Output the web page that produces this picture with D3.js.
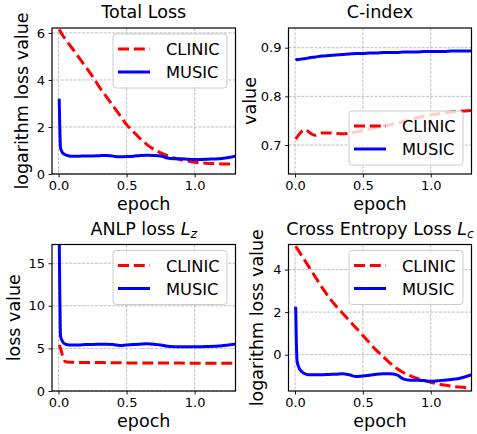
<!DOCTYPE html>
<html>
<head>
<meta charset="utf-8">
<script src="https://cdn.jsdelivr.net/npm/d3@7"></script>
<style>
  body { margin: 0; background: #fff; }
  svg { font-family: "DejaVu Sans", sans-serif; }
</style>
</head>
<body>
<div id="chart"></div>
<script>
// epochs shared by every series
var epochs = [0.005, 0.015, 0.03, 0.05, 0.08, 0.1, 0.15, 0.2, 0.25, 0.3, 0.35, 0.4, 0.45, 0.5,
    0.55, 0.6, 0.65, 0.7, 0.75, 0.8, 0.85, 0.9, 0.95, 1.0, 1.05, 1.1, 1.15, 1.2, 1.25, 1.32];

var series_names = ['CLINIC', 'MUSIC'];

// Total Loss
var total_clinic = [6.15, 6.05, 5.9, 5.75, 5.5, 5.35, 4.95, 4.55, 4.15, 3.7, 3.3, 2.9, 2.5, 2.1,
    1.8, 1.5, 1.25, 1.05, 0.9, 0.78, 0.68, 0.6, 0.55, 0.5, 0.47, 0.45, 0.44, 0.43, 0.43, 0.45];
var total_music = [3.2, 1.1, 0.9, 0.82, 0.77, 0.76, 0.76, 0.77, 0.77, 0.78, 0.79, 0.76, 0.73, 0.74,
    0.76, 0.79, 0.8, 0.79, 0.77, 0.68, 0.65, 0.65, 0.63, 0.62, 0.62, 0.63, 0.64, 0.66, 0.7, 0.79];

// C-index
var cindex_clinic = [0.712, 0.716, 0.722, 0.728, 0.732, 0.727, 0.72, 0.725, 0.725, 0.724, 0.723, 0.724, 0.727, 0.73,
    0.733, 0.736, 0.739, 0.742, 0.745, 0.749, 0.752, 0.756, 0.759, 0.762, 0.764, 0.766, 0.768, 0.769, 0.77, 0.771];
var cindex_music = [0.874, 0.876, 0.876, 0.877, 0.878, 0.879, 0.881, 0.883, 0.884, 0.885, 0.886, 0.887, 0.888, 0.888,
    0.889, 0.889, 0.89, 0.89, 0.89, 0.891, 0.891, 0.891, 0.892, 0.892, 0.892, 0.892, 0.893, 0.893, 0.893, 0.893];

// ANLP loss
var anlp_clinic = [5.4, 5.0, 4.1, 3.45, 3.38, 3.37, 3.36, 3.35, 3.35, 3.34, 3.33, 3.32, 3.31, 3.3,
    3.3, 3.3, 3.3, 3.29, 3.29, 3.3, 3.3, 3.28, 3.27, 3.27, 3.26, 3.26, 3.26, 3.25, 3.25, 3.25];
var anlp_music = [18.5, 6.4, 5.8, 5.5, 5.4, 5.4, 5.4, 5.45, 5.45, 5.5, 5.5, 5.45, 5.35, 5.4,
    5.45, 5.5, 5.55, 5.5, 5.4, 5.25, 5.2, 5.2, 5.2, 5.2, 5.2, 5.22, 5.25, 5.3, 5.4, 5.55];

// Cross Entropy loss
var ce_clinic = [5.1, 5.0, 4.85, 4.65, 4.35, 4.15, 3.65, 3.15, 2.7, 2.3, 1.95, 1.6, 1.25, 0.9,
    0.55, 0.2, -0.1, -0.4, -0.65, -0.85, -1.0, -1.12, -1.22, -1.3, -1.37, -1.43, -1.48, -1.52, -1.55, -1.56];
var ce_music = [2.25, -0.3, -0.62, -0.8, -0.92, -0.95, -0.95, -0.95, -0.93, -0.92, -0.9, -0.95, -1.03, -1.0,
    -0.97, -0.92, -0.9, -0.9, -0.95, -1.15, -1.2, -1.2, -1.22, -1.25, -1.23, -1.2, -1.17, -1.13, -1.05, -0.9];

var x_ticks = [0, 0.5, 1.0];

var svg_size = { 'width': 477, 'height': 434 };

var panels = [
    { title: ['Total Loss'], ylabel: 'logarithm loss value', ylabel_x: 28,
      box: [52, 235.5, 28, 174], ydomain: [0, 6.21], yticks: [0, 2, 4, 6], yfmt: d3.format('d'),
      data: [total_clinic, total_music], legend: 'upper' },
    { title: ['C-index'], ylabel: 'value', ylabel_x: 256,
      box: [288.5, 471.5, 28, 174], ydomain: [0.6405, 0.9405], yticks: [0.7, 0.8, 0.9], yfmt: d3.format('.1f'),
      data: [cindex_clinic, cindex_music], legend: 'lower' },
    { title: ['ANLP loss ', 'L', 'z'], ylabel: 'loss value', ylabel_x: 20,
      box: [52, 235.5, 244.5, 391], ydomain: [0, 17.2], yticks: [0, 5, 10, 15], yfmt: d3.format('d'),
      data: [anlp_clinic, anlp_music], legend: 'upper' },
    { title: ['Cross Entropy Loss ', 'L', 'c'], ylabel: 'logarithm loss value', ylabel_x: 263,
      box: [288.5, 471.5, 244.5, 391], ydomain: [-1.71, 5.18], yticks: [0, 2, 4], yfmt: d3.format('d'),
      data: [ce_clinic, ce_music], legend: 'upper' }
];

var line_style = [
    { color: '#ff0000', dash: '11,4.8' },
    { color: '#0000ff', dash: null }
];

var svg = d3.select('#chart')
    .append('svg')
    .attr('width', svg_size.width)
    .attr('height', svg_size.height);

svg.append('rect')
    .attr('width', svg_size.width)
    .attr('height', svg_size.height)
    .attr('fill', '#fff');

function drawPanel(p, idx) {
    var x0 = p.box[0], x1 = p.box[1], y0 = p.box[2], y1 = p.box[3];

    var x_scale = d3.scaleLinear().domain([-0.048, 1.30]).range([x0, x1]);
    var y_scale = d3.scaleLinear().domain(p.ydomain).range([y1, y0]);

    var g = svg.append('g');

    // grid
    g.append('g').selectAll('line')
        .data(x_ticks)
        .enter().append('line')
        .attr('x1', function(d){ return x_scale(d); })
        .attr('x2', function(d){ return x_scale(d); })
        .attr('y1', y0).attr('y2', y1)
        .attr('stroke', '#b0b0b0').attr('stroke-width', 0.8)
        .attr('stroke-dasharray', '3,1.3');
    g.append('g').selectAll('line')
        .data(p.yticks)
        .enter().append('line')
        .attr('y1', function(d){ return y_scale(d); })
        .attr('y2', function(d){ return y_scale(d); })
        .attr('x1', x0).attr('x2', x1)
        .attr('stroke', '#b0b0b0').attr('stroke-width', 0.8)
        .attr('stroke-dasharray', '3,1.3');

    // lines
    var clip_id = 'clip' + idx;
    svg.append('clipPath').attr('id', clip_id)
        .append('rect')
        .attr('x', x0).attr('y', y0)
        .attr('width', x1 - x0).attr('height', y1 - y0);

    var line = d3.line()
        .x(function(d, i){ return x_scale(epochs[i]); })
        .y(function(d){ return y_scale(d); })
        .curve(d3.curveMonotoneX);

    var lines_g = g.append('g').attr('clip-path', 'url(#' + clip_id + ')');
    p.data.forEach(function(values, i){
        lines_g.append('path')
            .attr('d', line(values))
            .attr('fill', 'none')
            .attr('stroke', line_style[i].color)
            .attr('stroke-width', 3)
            .attr('stroke-dasharray', line_style[i].dash);
    });

    // axes
    var x_axis = d3.axisBottom(x_scale)
        .tickValues(x_ticks)
        .tickFormat(d3.format('.1f'))
        .tickSizeInner(3.5).tickSizeOuter(0).tickPadding(3.5);
    var y_axis = d3.axisLeft(y_scale)
        .tickValues(p.yticks)
        .tickFormat(p.yfmt)
        .tickSizeInner(3.5).tickSizeOuter(0).tickPadding(3.5);

    var xg = g.append('g')
        .attr('transform', 'translate(0,' + y1 + ')')
        .call(x_axis);
    var yg = g.append('g')
        .attr('transform', 'translate(' + x0 + ',0)')
        .call(y_axis);
    [xg, yg].forEach(function(a){
        a.select('.domain').remove();
        a.selectAll('line').attr('stroke', '#000').attr('stroke-width', 0.9);
        a.selectAll('text')
            .attr('fill', '#000')
            .style('font-size', '13px')
            .style('font-family', '"DejaVu Sans", sans-serif');
    });

    // frame
    g.append('rect')
        .attr('x', x0).attr('y', y0)
        .attr('width', x1 - x0).attr('height', y1 - y0)
        .attr('fill', 'none')
        .attr('stroke', '#000')
        .attr('stroke-width', 1.2);

    // title
    var title = g.append('text')
        .attr('x', (x0 + x1) / 2)
        .attr('y', y0 - 10)
        .attr('text-anchor', 'middle')
        .style('font-size', '17.5px')
        .text(p.title[0]);
    if (p.title.length > 1) {
        title.append('tspan')
            .style('font-style', 'italic')
            .text(p.title[1]);
        title.append('tspan')
            .style('font-style', 'italic')
            .style('font-size', '12.5px')
            .attr('dy', 3.5)
            .text(p.title[2]);
    }

    // axis labels
    g.append('text')
        .attr('x', (x0 + x1) / 2)
        .attr('y', y1 + 36)
        .attr('text-anchor', 'middle')
        .style('font-size', '17.5px')
        .text('epoch');

    g.append('text')
        .attr('transform', 'translate(' + p.ylabel_x + ',' + ((y0 + y1) / 2) + ') rotate(-90)')
        .attr('text-anchor', 'middle')
        .style('font-size', '17.5px')
        .text(p.ylabel);

    // legend
    var lx = x1 - 122.5;
    var ly = p.legend === 'upper' ? y0 + 6 : y1 - 63;
    var legend = g.append('g').attr('transform', 'translate(' + lx + ',' + ly + ')');
    legend.append('rect')
        .attr('width', 114).attr('height', 54)
        .attr('rx', 3).attr('ry', 3)
        .attr('fill', '#fff').attr('fill-opacity', 0.8)
        .attr('stroke', '#cccccc').attr('stroke-width', 1);

    var legend_item = legend.selectAll('.legend-item')
        .data(series_names)
        .enter().append('g')
        .classed('legend-item', true)
        .attr('transform', function(d, i){ return 'translate(0,' + (15 + 23 * i) + ')'; });

    legend_item.append('line')
        .attr('x1', 5).attr('x2', 37)
        .attr('y1', 0).attr('y2', 0)
        .attr('stroke', function(d, i){ return line_style[i].color; })
        .attr('stroke-width', 3)
        .attr('stroke-dasharray', function(d, i){ return line_style[i].dash; });

    legend_item.append('text')
        .attr('x', 53)
        .attr('y', 6)
        .style('font-size', '16.3px')
        .text(function(d){ return d; });
}

panels.forEach(drawPanel);
</script>
</body>
</html>
